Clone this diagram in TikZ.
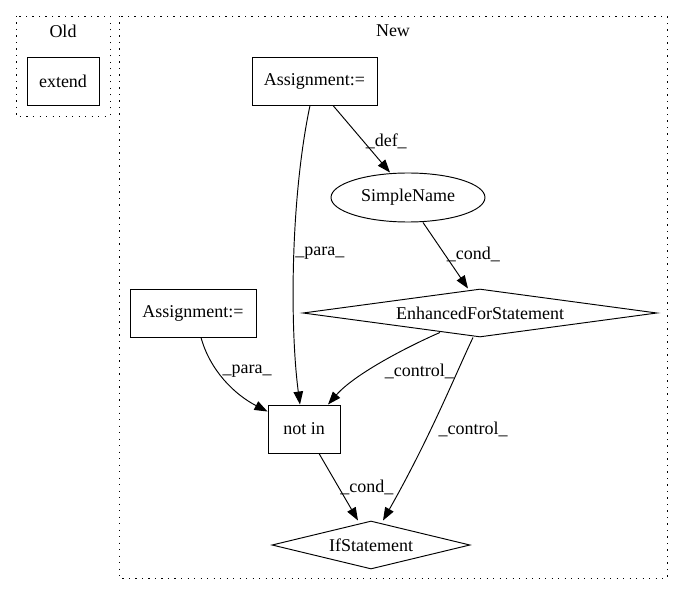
\documentclass[tikz,border=0pt]{standalone}
\usepackage{fontspec}
\setmainfont{Liberation Serif}
\usepackage{xcolor}
\usepackage{tikz}
\usetikzlibrary{shapes.geometric, arrows.meta}
\colorlet{rulecolor}{black}
\colorlet{linkcolor}{black}
\colorlet{textcolor}{black}
\tikzset{
	graph/.style={
		,x			= 1pt
		,y			= -1pt
		,font		= \fontsize{18}{21}\selectfont
		,line width	= 0.95pt
	}
	,cluster/.style	= {draw = rulecolor, dash pattern = on 1.3pt off 5.2pt}
	,box/.style		= {rectangle, draw, inner sep = 0pt, minimum width = #1, minimum height = 48pt}
	,oval/.style	= {ellipse, draw, inner sep = 0pt, minimum width = 154pt, minimum height = 49pt}
	,test/.style	= {diamond, draw, inner sep = 0pt, aspect = 7, minimum width = #1, minimum height = 48pt}
	,link/.style	= {draw = linkcolor, -{Triangle[length = 13pt, width = 9.5pt]}}
	,lbl/.style		= {text = textcolor, inner sep = 1.5pt, anchor = west}
}

\begin{document}
\begin{tikzpicture}[graph]
	\useasboundingbox (0,0) rectangle (683,596);

	% the clusters
	\draw[cluster] (16,16) rectangle (110,116);
	\draw[cluster] (119,16) rectangle (667,578);
	\node (oldlabel) at (63,31) {Old};
	\node (newlabel) at (393,31) {New};

	% the nodes
	\node[box = 72pt]  (extend)     at (63,81)    {extend};
	\node[box = 125pt] (asgtop)     at (314.5,81) {Assignment:=};
	\node[oval]        (simplename) at (408,197.5) {SimpleName};
	\node[test = 354pt] (enhfor)    at (480,313)  {EnhancedForStatement};
	\node[box = 126pt] (asgleft)    at (193,313)  {Assignment:=};
	\node[box = 72pt]  (notin)      at (304,429)  {not in};
	\node[test = 198pt] (ifstmt)    at (371,545)  {IfStatement};

	% the edges
	\draw[link] ([xshift=18.5pt]asgtop.south) -- ([xshift=-18pt]simplename.north)
		node[lbl, pos=.54] {\_def\_};
	\draw[link] ([xshift=-4.5pt]asgtop.south) .. controls +(-20,95) and +(-10,-75) .. ([xshift=-4pt]notin.north)
		node[lbl, pos=.47, inner sep=1pt] {\_para\_};
	\draw[link] ([xshift=15pt]simplename.south) -- ([xshift=-12pt]enhfor.north)
		node[lbl, pos=.485] {\_cond\_};
	\draw[link] ([xshift=8pt]asgleft.south) .. controls +(9,33) and +(-33,-17) .. ([yshift=-7pt]notin.north west)
		node[lbl, pos=.38, xshift=3pt] {\_para\_};
	\draw[link] ([xshift=-40pt,yshift=5pt]enhfor.south) .. controls +(-30,13) and +(27,-31) .. ([xshift=24pt]notin.north)
		node[lbl, pos=.5, anchor=north west] {\_control\_};
	\draw[link] ([xshift=-7pt]enhfor.south) .. controls +(-18,38) and +(47,-83) .. ([xshift=12pt]ifstmt.north)
		node[lbl, pos=.59, xshift=6pt] {\_control\_};
	\draw[link] ([xshift=15pt]notin.south) -- ([xshift=-13pt]ifstmt.north)
		node[lbl, pos=.5] {\_cond\_};
\end{tikzpicture}
\end{document}
